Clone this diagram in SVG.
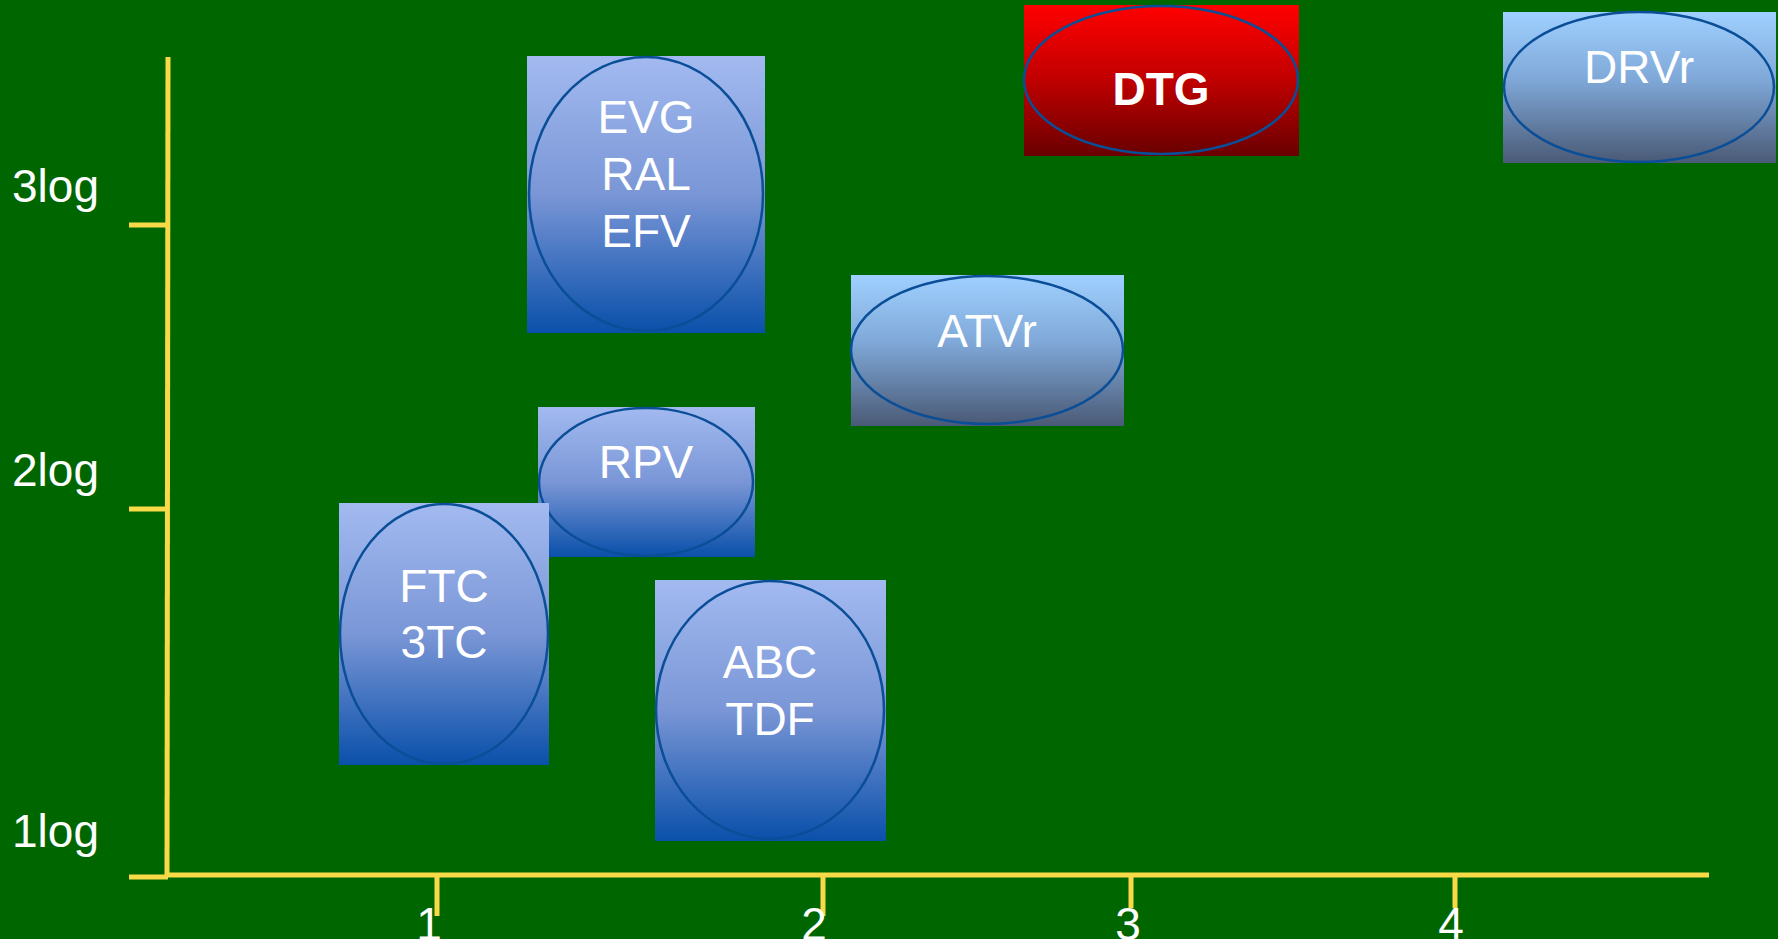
<svg xmlns="http://www.w3.org/2000/svg" width="1778" height="939" viewBox="0 0 1778 939">
<defs>
<linearGradient id="gBlue" x1="0" y1="0" x2="0" y2="1">
<stop offset="0" stop-color="#a2baf0"/><stop offset="0.5" stop-color="#7a96d6"/><stop offset="1" stop-color="#0a50aa"/>
</linearGradient>
<linearGradient id="gSky" x1="0" y1="0" x2="0" y2="1">
<stop offset="0" stop-color="#9fd0ff"/><stop offset="0.45" stop-color="#7fa8d8"/><stop offset="1" stop-color="#4a5a76"/>
</linearGradient>
<linearGradient id="gRed" x1="0" y1="0" x2="0" y2="1">
<stop offset="0" stop-color="#ff0000"/><stop offset="0.5" stop-color="#c00000"/><stop offset="1" stop-color="#6a0000"/>
</linearGradient>
<style>
.ax{stroke:#f8d948;stroke-width:5;fill:none}
.tk{stroke:#f8d948;stroke-width:5;fill:none}
.lbl{font-family:"Liberation Sans",Arial,sans-serif;font-size:46px;fill:#ffffff}
.nt{font-family:"Liberation Sans",Arial,sans-serif;font-size:46px;fill:#ffffff;text-anchor:middle}
.bold{font-weight:bold}
.el{stroke:#0a4e98;stroke-width:2.5}
</style>
</defs>
<rect x="0" y="0" width="1778" height="939" fill="#006600"/>
<g id="axes">
<line class="ax" x1="168" y1="57" x2="167" y2="877"/>
<line class="ax" x1="167" y1="875" x2="1709" y2="875"/>
<line class="tk" x1="129" y1="225" x2="168" y2="225"/>
<line class="tk" x1="129" y1="509" x2="168" y2="509"/>
<line class="tk" x1="129" y1="877" x2="168" y2="877"/>
<line class="tk" x1="437" y1="875" x2="437" y2="916"/>
<line class="tk" x1="823" y1="875" x2="823" y2="916"/>
<line class="tk" x1="1131" y1="875" x2="1131" y2="908"/>
<line class="tk" x1="1455" y1="875" x2="1455" y2="908"/>
<text class="lbl" x="12" y="202">3log</text>
<text class="lbl" x="12" y="486">2log</text>
<text class="lbl" x="12" y="847">1log</text>
<text class="nt" x="429" y="940">1</text>
<text class="nt" x="814" y="940">2</text>
<text class="nt" x="1128" y="940">3</text>
<text class="nt" x="1451" y="940">4</text>
</g>
<g id="node-evg">
<rect x="527" y="56" width="238" height="277" fill="url(#gBlue)"/>
<ellipse class="el" cx="646" cy="194" rx="117" ry="137" fill="url(#gBlue)"/>
<text class="nt" x="646" y="133">EVG</text>
<text class="nt" x="646" y="190">RAL</text>
<text class="nt" x="646" y="247">EFV</text>
</g>
<g id="node-rpv">
<rect x="538" y="407" width="217" height="150" fill="url(#gBlue)"/>
<ellipse class="el" cx="646" cy="482" rx="107" ry="74" fill="url(#gBlue)"/>
<text class="nt" x="646" y="478">RPV</text>
</g>
<g id="node-ftc">
<rect x="339" y="503" width="210" height="262" fill="url(#gBlue)"/>
<ellipse class="el" cx="444" cy="634" rx="104" ry="130" fill="url(#gBlue)"/>
<text class="nt" x="444" y="602">FTC</text>
<text class="nt" x="444" y="658">3TC</text>
</g>
<g id="node-abc">
<rect x="655" y="580" width="231" height="261" fill="url(#gBlue)"/>
<ellipse class="el" cx="770" cy="710" rx="114" ry="129" fill="url(#gBlue)"/>
<text class="nt" x="770" y="678">ABC</text>
<text class="nt" x="770" y="735">TDF</text>
</g>
<g id="node-atvr">
<rect x="851" y="275" width="273" height="151" fill="url(#gSky)"/>
<ellipse class="el" cx="987" cy="350" rx="136" ry="74" fill="url(#gSky)"/>
<text class="nt" x="987" y="347">ATVr</text>
</g>
<g id="node-dtg">
<rect x="1024" y="5" width="275" height="151" fill="url(#gRed)"/>
<ellipse class="el" cx="1161" cy="80" rx="137" ry="74" fill="url(#gRed)"/>
<text class="nt bold" x="1161" y="105">DTG</text>
</g>
<g id="node-drvr">
<rect x="1503" y="12" width="273" height="151" fill="url(#gSky)"/>
<ellipse class="el" cx="1639" cy="87" rx="135" ry="75" fill="url(#gSky)"/>
<text class="nt" x="1639" y="83">DRVr</text>
</g>
<g id="connectors"></g>
</svg>
